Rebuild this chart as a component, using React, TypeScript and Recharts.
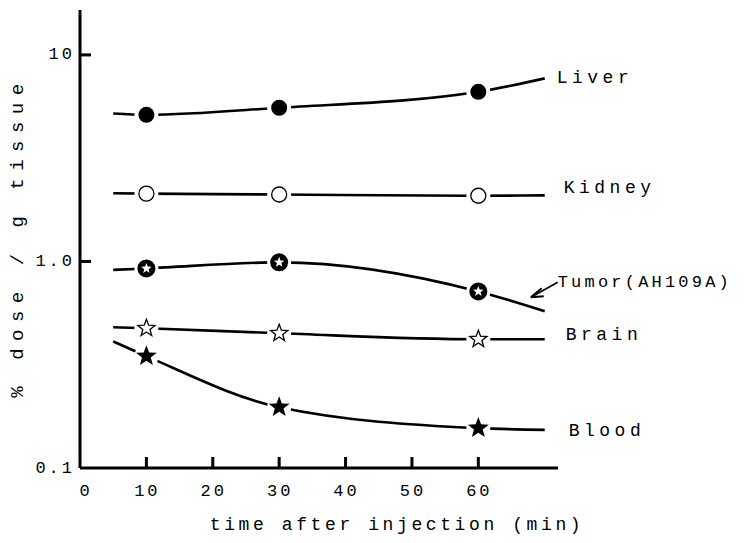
import React from "react";
import { LineChart, Line, XAxis, YAxis } from "recharts";

// time (min) and % dose / g tissue
const times = [5, 10, 30, 60, 70];
const markedTimes = [10, 30, 60];
const liver = [5.2, 5.13, 5.55, 6.63, 7.7];
const kidney = [2.14, 2.13, 2.11, 2.08, 2.09];
const tumor = [0.91, 0.925, 0.99, 0.716, 0.574];
const brain = [0.48, 0.475, 0.449, 0.42, 0.42];
const blood = [0.41, 0.348, 0.197, 0.156, 0.153];

const xTicks = [0, 10, 20, 30, 40, 50, 60];
const yTicks = [0.1, 1, 10];
const yTickLabels: Record<number, string> = { 0.1: "0.1", 1: "1.0", 10: "10" };

const data = times.map((t, i) => ({
  t,
  liver: liver[i],
  kidney: kidney[i],
  tumor: tumor[i],
  brain: brain[i],
  blood: blood[i],
}));

const FONT = "'Liberation Mono', 'DejaVu Sans Mono', monospace";

function starPath(cx: number, cy: number, r: number) {
  const pts: string[] = [];
  for (let k = 0; k < 10; k++) {
    const rad = k % 2 === 0 ? r : r * 0.42;
    const a = -Math.PI / 2 + (k * Math.PI) / 5;
    pts.push(`${cx + rad * Math.cos(a)},${cy + rad * Math.sin(a)}`);
  }
  return "M" + pts.join("L") + "Z";
}

type Kind = "filled" | "open" | "tumor" | "openStar" | "star";

const makeDot = (kind: Kind) => (props: any) => {
  const { cx, cy, payload, index } = props;
  if (!markedTimes.includes(payload.t)) return <g key={`d${index}`} />;
  return (
    <g key={`d${index}`}>
      <circle cx={cx} cy={cy} r={12} fill="#fff" />
      {kind === "filled" && <circle cx={cx} cy={cy} r={8} fill="#000" />}
      {kind === "open" && (
        <circle cx={cx} cy={cy} r={7.5} fill="#fff" stroke="#000" strokeWidth={1.3} />
      )}
      {kind === "tumor" && (
        <>
          <circle cx={cx} cy={cy} r={9} fill="#000" />
          <path d={starPath(cx, cy, 5.5)} fill="#fff" />
        </>
      )}
      {kind === "openStar" && (
        <path d={starPath(cx, cy, 9)} fill="#fff" stroke="#000" strokeWidth={1.3} />
      )}
      {kind === "star" && <path d={starPath(cx, cy, 11)} fill="#000" />}
    </g>
  );
};

const makeLabel =
  (text: string, dx: number, dy: number, arrow = false, spacing = 4.5, size = 18) =>
  (props: any) => {
    const { x, y, index } = props;
    if (index !== times.length - 1) return <g key={`l${index}`} />;
    return (
      <g key={`l${index}`}>
        {arrow && (
          <>
            <line x1={x + 13} y1={y - 29} x2={x - 12} y2={y - 15} stroke="#000" strokeWidth={1.8} />
            <path
              d={`M${x - 14},${y - 14} L${x - 3},${y - 23} M${x - 14},${y - 14} L${x - 1},${y - 15}`}
              stroke="#000"
              strokeWidth={1.8}
              fill="none"
            />
          </>
        )}
        <text
          x={x + dx}
          y={y + dy}
          fontFamily={FONT}
          fontSize={size}
          letterSpacing={spacing}
          dominantBaseline="central"
          fill="#000"
        >
          {text}
        </text>
      </g>
    );
  };

const XTick = (props: any) => {
  const { x, y, payload } = props;
  return (
    <g>
      {payload.value !== 0 && (
        <line x1={x} y1={y} x2={x} y2={y - 11} stroke="#000" strokeWidth={3} />
      )}
      <text
        x={x + (payload.value === 0 ? 6 : 1)}
        y={y + 28}
        textAnchor="middle"
        fontFamily={FONT}
        fontSize={17}
        letterSpacing={3}
        fill="#000"
      >
        {payload.value}
      </text>
    </g>
  );
};

const YTick = (props: any) => {
  const { x, y, payload } = props;
  return (
    <g>
      {payload.value !== 0.1 && (
        <line x1={x} y1={y} x2={x + 11} y2={y} stroke="#000" strokeWidth={3} />
      )}
      <text
        x={x - 5}
        y={y}
        textAnchor="end"
        dominantBaseline="central"
        fontFamily={FONT}
        fontSize={17}
        letterSpacing={3}
        fill="#000"
      >
        {yTickLabels[payload.value]}
      </text>
    </g>
  );
};

const series: {
  key: string;
  kind: Kind;
  label: string;
  dx: number;
  dy: number;
  arrow?: boolean;
  spacing?: number;
  size?: number;
}[] = [
  { key: "liver", kind: "filled", label: "Liver", dx: 12, dy: 0 },
  { key: "kidney", kind: "open", label: "Kidney", dx: 19, dy: -7 },
  { key: "tumor", kind: "tumor", label: "Tumor(AH109A)", dx: 13, dy: -29, arrow: true, spacing: 3.2, size: 17 },
  { key: "brain", kind: "openStar", label: "Brain", dx: 21, dy: -4 },
  { key: "blood", kind: "star", label: "Blood", dx: 24, dy: 1 },
];

export default function App() {
  return (
    <div style={{ position: "absolute", left: 0, top: 0, width: 753, height: 543, background: "#fff" }}>
      <LineChart
        width={753}
        height={543}
        data={data}
        margin={{ top: 10, right: 195, bottom: 45, left: 40 }}
      >
        <XAxis
          dataKey="t"
          type="number"
          domain={[0, 72]}
          ticks={xTicks}
          allowDataOverflow
          height={30}
          tickSize={0}
          tickMargin={0}
          tickLine={false}
          axisLine={{ stroke: "#000", strokeWidth: 3 }}
          tick={<XTick />}
        />
        <YAxis
          scale="log"
          domain={[0.1, 16.5]}
          ticks={yTicks}
          allowDataOverflow
          width={40}
          tickSize={0}
          tickMargin={0}
          tickLine={false}
          axisLine={{ stroke: "#000", strokeWidth: 3 }}
          tick={<YTick />}
        />
        {series.map((s) => (
          <Line
            key={s.key}
            dataKey={s.key}
            type="monotone"
            stroke="#000"
            strokeWidth={2.6}
            dot={makeDot(s.kind)}
            activeDot={false}
            label={makeLabel(s.label, s.dx, s.dy, s.arrow, s.spacing, s.size)}
            isAnimationActive={false}
          />
        ))}
        <text
          x={397}
          y={525}
          textAnchor="middle"
          dominantBaseline="central"
          fontFamily={FONT}
          fontSize={18}
          letterSpacing={3.6}
          fill="#000"
        >
          time after injection (min)
        </text>
        <text
          x={18}
          y={237}
          transform="rotate(-90 18 237)"
          textAnchor="middle"
          dominantBaseline="central"
          fontFamily={FONT}
          fontSize={19}
          letterSpacing={7.5}
          fill="#000"
        >
          % dose / g tissue
        </text>
      </LineChart>
    </div>
  );
}
